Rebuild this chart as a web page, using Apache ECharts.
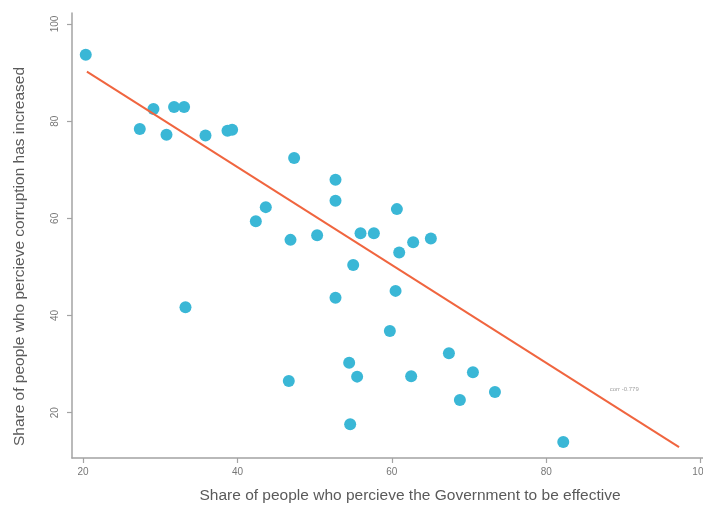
<!DOCTYPE html>
<html>
<head>
<meta charset="utf-8">
<script src="https://cdn.jsdelivr.net/npm/echarts@6/dist/echarts.min.js"></script>
<style>
  html, body { margin: 0; padding: 0; background: #fff; }
  #chart { width: 703px; height: 511px; }
</style>
</head>
<body>
<div id="chart"></div>
<script>
// government effectiveness (%) vs perceived corruption increase (%)
const govEffective = [20.35, 27.35, 29.12, 30.81, 31.79, 33.09, 33.27, 35.86, 38.71, 39.31,
  42.38, 43.67, 46.65, 46.87, 47.34, 50.32, 52.7, 52.7, 52.7, 54.47,
  54.6, 54.99, 55.5, 55.94, 57.67, 59.74, 60.48, 60.65, 60.95, 62.5,
  62.76, 65.05, 67.39, 70.5, 68.81, 73.35, 82.2];
const corruptionUp = [93.68, 78.37, 82.49, 77.2, 82.9, 82.9, 41.71, 77.05, 78.02, 78.23,
  59.42, 62.31, 26.53, 55.57, 72.4, 56.54, 67.93, 63.6, 43.67, 30.3,
  17.61, 50.42, 27.42, 56.95, 56.95, 36.83, 45.07, 61.9, 52.96, 27.5,
  55.1, 55.84, 32.23, 28.32, 22.62, 24.26, 13.97];
// fitted line end points
const fitX = [20.5, 97.2];
const fitY = [90.2, 12.9];
const corrLabel = 'corr -0.779';
const corrPos = [90.1, 24.8];
const xTicks = [20, 40, 60, 80, 100];
const yTicks = [20, 40, 60, 80, 100];

const chart = echarts.init(document.getElementById('chart'));

const axisGray = '#a3a3a3';
const textGray = '#5a5a5a';

const option = {
  animation: false,
  grid: { left: 72, right: 0, top: 13, bottom: 53, outerBoundsMode: 'none', containLabel: false },
  xAxis: {
    type: 'value',
    min: 18.57,
    max: 100.3,
    name: 'Share of people who percieve the Government to be effective',
    nameLocation: 'middle',
    nameGap: 30,
    nameTextStyle: { fontFamily: 'Liberation Sans', fontSize: 15.5, color: textGray, padding: [0, 0, 0, 45] },
    splitLine: { show: false },
    axisLine: { lineStyle: { color: axisGray, width: 1.5 } },
    axisTick: { customValues: xTicks, length: 5, lineStyle: { color: axisGray, width: 1.2 } },
    axisLabel: {
      customValues: xTicks,
      margin: 9,
      fontFamily: 'Liberation Sans',
      fontSize: 10,
      color: '#777'
    }
  },
  yAxis: {
    type: 'value',
    min: 10.67,
    max: 102.27,
    name: 'Share of people who percieve corruption has increased',
    nameLocation: 'middle',
    nameGap: 44,
    nameRotate: 90,
    nameTextStyle: { fontFamily: 'Liberation Sans', fontSize: 15.5, color: textGray, padding: [0, 42, 0, 0] },
    splitLine: { show: false },
    axisLine: { show: true, lineStyle: { color: axisGray, width: 1.5 } },
    axisTick: { show: true, customValues: yTicks, length: 5, lineStyle: { color: axisGray, width: 1.2 } },
    axisLabel: {
      customValues: yTicks,
      rotate: 90,
      margin: 12,
      fontFamily: 'Liberation Sans',
      fontSize: 10,
      color: '#777'
    }
  },
  series: [
    {
      type: 'scatter',
      symbolSize: 12,
      itemStyle: { color: '#3ab7d6', opacity: 1 },
      data: govEffective.map((x, i) => [x, corruptionUp[i]]),
      z: 2
    },
    {
      type: 'line',
      symbol: 'none',
      lineStyle: { color: '#f0653f', width: 2 },
      data: fitX.map((x, i) => [x, fitY[i]]),
      z: 3
    },
    {
      type: 'scatter',
      symbolSize: 0,
      data: [corrPos],
      label: {
        show: true,
        position: 'inside',
        formatter: corrLabel,
        fontFamily: 'Liberation Sans',
        fontSize: 6,
        color: '#888'
      }
    }
  ]
};
chart.setOption(option);
</script>
</body>
</html>
